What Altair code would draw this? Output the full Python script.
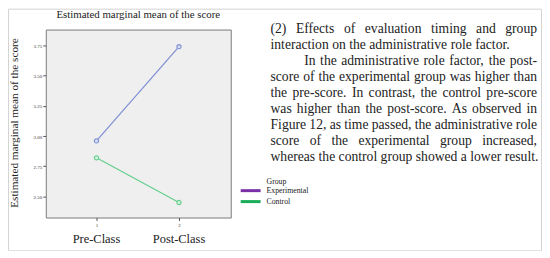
import altair as alt
import pandas as pd

# ---- data ----
time_points = [1, 2]
phase_labels = ["Pre-Class", "Post-Class"]
groups = ["Experimental", "Control"]
experimental_means = [2.96, 3.74]
control_means = [2.82, 2.45]
line_colors = ["#7d8fd6", "#62cf8c"]
marker_fills = ["#d9def5", "#d5f2e0"]
legend_colors = ["#7a2fa6", "#19ad59"]
y_ticks = [2.50, 2.75, 3.00, 3.25, 3.50, 3.75]
chart_title = "Estimated marginal mean of the score"
y_title = "Estimated marginal mean of the score"
paragraph_lines = [
    "(2) Effects of evaluation timing and group",
    "interaction on the administrative role factor.",
    "In the administrative role factor, the post-",
    "score of the experimental group was higher than",
    "the pre-score. In contrast, the control pre-score",
    "was higher than the post-score. As observed in",
    "Figure 12, as time passed, the administrative role",
    "score of the experimental group increased,",
    "whereas the control group showed a lower result.",
]
justified = [True, False, True, True, True, True, True, True, False]
indented = [False, False, True, False, False, False, False, False, False]

rows = []
for t, ph, e, c in zip(time_points, phase_labels, experimental_means, control_means):
    rows.append({"time": t, "phase": ph, "group": groups[0], "mean": e})
    rows.append({"time": t, "phase": ph, "group": groups[1], "mean": c})
df = pd.DataFrame(rows)
phase_df = pd.DataFrame({"time": time_points, "phase": phase_labels})

W, H = 186, 189
SERIF = "Liberation Serif"

# --- justified paragraph layout (Times / Liberation Serif advance widths, 1/1000 em) ---
TW = {}
TW.update(dict(zip("abcdefghijklmnopqrstuvwxyz",
                   [444, 500, 444, 500, 444, 333, 500, 500, 278, 278, 500, 278, 778,
                    500, 500, 500, 500, 333, 389, 278, 500, 500, 722, 500, 500, 444])))
TW.update(dict(zip("ABCDEFGHIJKLMNOPQRSTUVWXYZ",
                   [722, 667, 667, 722, 611, 556, 722, 722, 333, 389, 722, 611, 889,
                    722, 722, 556, 722, 667, 556, 611, 722, 722, 944, 722, 722, 611])))
TW.update({d: 500 for d in "0123456789"})
TW.update({" ": 250, ".": 250, ",": 250, "-": 333, "(": 333, ")": 333})

PFS = 13.7
P_LEFT, P_RIGHT, P_INDENT = 226, 494, 34
P_TOP, P_LH = -1, 16.1


def word_width(w):
    return sum(TW.get(ch, 500) for ch in w) * PFS / 1000.0


word_rows = []
for i, (line, just, ind) in enumerate(zip(paragraph_lines, justified, indented)):
    words = line.split()
    start = P_LEFT + (P_INDENT if ind else 0)
    widths = [word_width(w) for w in words]
    if just and len(words) > 1:
        gap = (P_RIGHT - start - sum(widths)) / (len(words) - 1)
    else:
        gap = TW[" "] * PFS / 1000.0
    x = start
    for w, ww in zip(words, widths):
        word_rows.append({"word": w, "px": x, "py": P_TOP + i * P_LH})
        x += ww + gap
words_df = pd.DataFrame(word_rows)

xscale = alt.Scale(domain=[0.386, 2.627], nice=False, zero=False)
yscale = alt.Scale(domain=[2.326, 3.882], nice=False, zero=False)
color_scale = alt.Scale(domain=groups, range=line_colors)
fill_scale = alt.Scale(domain=groups, range=marker_fills)

x_axis = alt.Axis(values=time_points, format="d", title=None, grid=False,
                  domain=False, labelFontSize=5, tickSize=3, labelPadding=2,
                  labelOverlap=False, tickColor="#555", labelColor="#333", labelFont=SERIF)
y_axis = alt.Axis(values=y_ticks, format=".2f", title=None, grid=False,
                  domain=False, labelFontSize=5, tickSize=3, labelPadding=1,
                  labelOverlap=False, labelBound=False, labelFlush=False,
                  tickColor="#555", labelColor="#333", labelFont=SERIF)

base = alt.Chart(df)

lines = base.mark_line(strokeWidth=1.2).encode(
    x=alt.X("time:Q", scale=xscale, axis=x_axis),
    y=alt.Y("mean:Q", scale=yscale, axis=y_axis),
    color=alt.Color("group:N", scale=color_scale, legend=None),
    detail="group:N",
)
points = base.mark_point(size=18, filled=False, strokeWidth=1.1, fillOpacity=1).encode(
    x=alt.X("time:Q", scale=xscale, axis=x_axis),
    y=alt.Y("mean:Q", scale=yscale, axis=y_axis),
    color=alt.Color("group:N", scale=color_scale, legend=None),
    fill=alt.Fill("group:N", scale=fill_scale, legend=None),
)

phase_text = alt.Chart(phase_df).mark_text(font=SERIF, fontSize=12.5, color="#222", baseline="middle").encode(
    x=alt.X("time:Q", scale=xscale, axis=x_axis),
    text="phase:N",
    y=alt.value(211),
)

one = pd.DataFrame({"a": [0]})

title_text = alt.Chart(one).mark_text(
    font=SERIF, fontSize=10.9, color="#222", baseline="middle", text=chart_title).encode(
    x=alt.value(W / 2), y=alt.value(-15))

ytitle_text = alt.Chart(one).mark_text(
    font=SERIF, fontSize=11.3, color="#222", angle=270, baseline="middle", text=y_title).encode(
    x=alt.value(-31), y=alt.value(94))

legend_layers = [
    alt.Chart(one).mark_text(font=SERIF, fontSize=7.8, color="#222", align="left",
                             baseline="middle", text="Group").encode(
        x=alt.value(222), y=alt.value(153))
]
for k, (g, c) in enumerate(zip(groups, legend_colors)):
    yy = 162 + 11 * k
    legend_layers.append(
        alt.Chart(one).mark_rule(strokeWidth=3, color=c).encode(
            x=alt.value(196), x2=alt.value(216), y=alt.value(yy)))
    legend_layers.append(
        alt.Chart(one).mark_text(font=SERIF, fontSize=7.8, color="#222", align="left",
                                 baseline="middle", text=g).encode(
            x=alt.value(222), y=alt.value(yy)))

para = alt.Chart(words_df).mark_text(
    font=SERIF, fontSize=PFS, color="#222", align="left", baseline="middle").encode(
    x=alt.X("px:Q", scale=None, axis=None),
    y=alt.Y("py:Q", scale=None, axis=None),
    text="word:N",
)

frame = alt.Chart(one).mark_rect(
    fill=None, stroke="#d4d4d4", strokeWidth=1).encode(
    x=alt.value(-37.5), x2=alt.value(498.5), y=alt.value(-20.5), y2=alt.value(222.5))

chart = alt.layer(
    frame, lines, points, phase_text, title_text, ytitle_text, *legend_layers, para,
).properties(
    width=W, height=H,
    autosize=alt.AutoSizeParams(type="none"),
    padding={"left": 38, "top": 21, "right": 313, "bottom": 33},
    background="white",
).configure_view(fill="#efefef", stroke="#7a7a7a", strokeWidth=1
).configure_axis(labelOverlap=False)

chart.save("out.html", embed_options={"renderer": "svg", "actions": False})
